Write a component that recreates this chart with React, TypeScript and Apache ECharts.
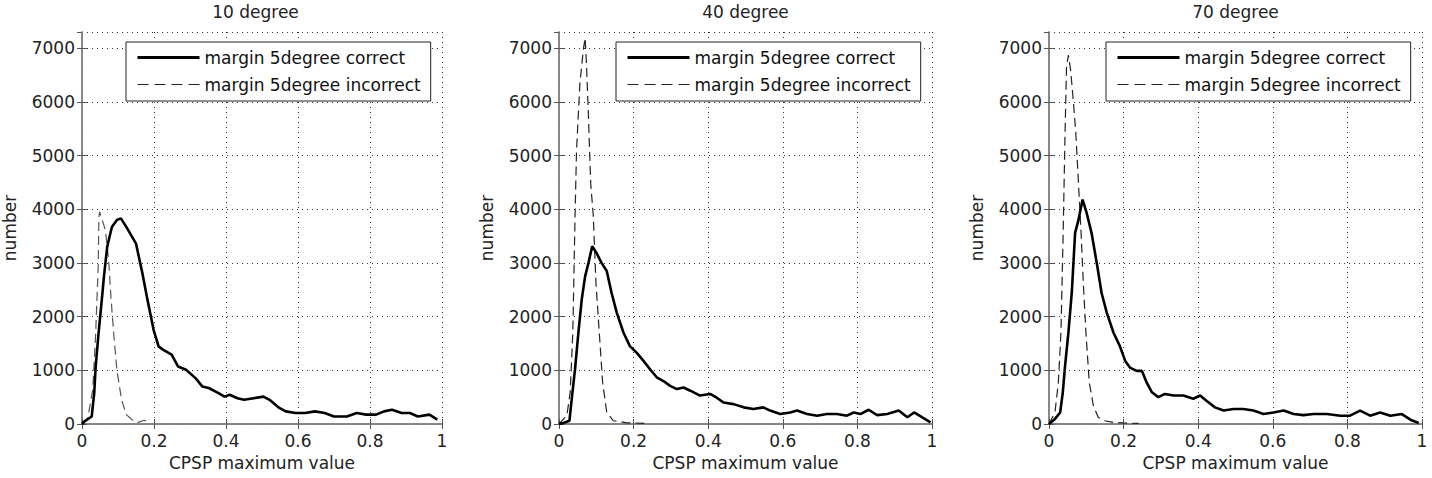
import { useEffect, useRef } from "react";
import * as echarts from "echarts";

const titles = ["10 degree", "40 degree", "70 degree"];
const seriesNames = ["margin 5degree correct", "margin 5degree incorrect"];
const xAxisName = "CPSP maximum value";
const yAxisName = "number";
const xMin = 0;
const xMax = 1;
const xStep = 0.2;
const yMin = 0;
const yMax = 7300;
const yStep = 1000;

const correct10: [number, number][] = [
  [0, 0], [0.007, 50], [0.027, 140], [0.034, 580], [0.038, 1070], [0.046, 1690],
  [0.055, 2310], [0.061, 2750], [0.07, 3300], [0.083, 3670], [0.097, 3800],
  [0.108, 3830], [0.123, 3670], [0.15, 3360], [0.168, 2800], [0.182, 2310],
  [0.199, 1750], [0.213, 1440], [0.226, 1380], [0.249, 1290], [0.267, 1070],
  [0.289, 1010], [0.316, 850], [0.334, 700], [0.352, 670], [0.378, 580],
  [0.396, 510], [0.41, 545], [0.432, 480], [0.45, 450], [0.477, 480],
  [0.504, 510], [0.521, 450], [0.548, 300], [0.566, 235], [0.593, 205],
  [0.62, 205], [0.647, 235], [0.674, 205], [0.7, 140], [0.736, 140],
  [0.763, 205], [0.79, 175], [0.817, 175], [0.839, 235], [0.861, 265],
  [0.888, 205], [0.911, 205], [0.933, 140], [0.965, 175], [0.987, 80],
];
const incorrect10: [number, number][] = [
  [0, 0], [0.016, 110], [0.03, 640], [0.038, 1690], [0.045, 2930], [0.047, 3860],
  [0.049, 3950], [0.056, 3800], [0.065, 3610], [0.074, 3050], [0.081, 2310],
  [0.088, 1690], [0.097, 1000], [0.11, 450], [0.123, 175], [0.141, 70],
  [0.155, 30], [0.173, 70], [0.19, 30],
];

const correct40: [number, number][] = [
  [0, 0], [0.012, 20], [0.028, 60], [0.034, 460], [0.043, 1020], [0.052, 1700],
  [0.061, 2320], [0.07, 2750], [0.079, 3000], [0.089, 3310], [0.101, 3180],
  [0.114, 3000], [0.128, 2850], [0.141, 2440], [0.155, 2070], [0.173, 1700],
  [0.19, 1450], [0.208, 1330], [0.226, 1180], [0.244, 1020], [0.262, 870],
  [0.28, 800], [0.298, 710], [0.316, 650], [0.334, 680], [0.352, 620],
  [0.378, 530], [0.405, 560], [0.423, 490], [0.441, 400], [0.468, 370],
  [0.495, 310], [0.521, 280], [0.548, 310], [0.566, 250], [0.593, 185],
  [0.62, 215], [0.638, 250], [0.665, 185], [0.692, 155], [0.718, 185],
  [0.745, 185], [0.772, 155], [0.79, 215], [0.808, 185], [0.83, 265],
  [0.853, 165], [0.88, 185], [0.911, 250], [0.934, 125], [0.952, 215],
  [0.974, 125], [0.996, 30],
];
const incorrect40: [number, number][] = [
  [0, 0], [0.021, 155], [0.03, 590], [0.037, 1700], [0.043, 3870], [0.047, 5100],
  [0.056, 6340], [0.065, 6960], [0.07, 7190], [0.074, 6650], [0.079, 5720],
  [0.085, 4480], [0.092, 3870], [0.099, 2630], [0.108, 1700], [0.117, 770],
  [0.128, 215], [0.146, 60], [0.164, 45], [0.182, 20], [0.2, 20], [0.235, 10],
];

const correct70: [number, number][] = [
  [0, 0], [0.016, 95], [0.03, 215], [0.037, 590], [0.043, 1080], [0.052, 1700],
  [0.061, 2440], [0.07, 3560], [0.079, 3800], [0.09, 4180], [0.101, 3930],
  [0.114, 3560], [0.128, 3000], [0.141, 2440], [0.155, 2070], [0.173, 1700],
  [0.19, 1450], [0.204, 1180], [0.217, 1050], [0.235, 990], [0.249, 990],
  [0.262, 770], [0.276, 590], [0.293, 500], [0.311, 560], [0.334, 530],
  [0.36, 530], [0.387, 470], [0.405, 530], [0.423, 430], [0.445, 310],
  [0.468, 250], [0.495, 280], [0.521, 280], [0.548, 250], [0.575, 185],
  [0.602, 215], [0.629, 250], [0.656, 185], [0.682, 165], [0.709, 185],
  [0.745, 185], [0.781, 155], [0.807, 155], [0.834, 250], [0.861, 155],
  [0.888, 215], [0.915, 155], [0.946, 185], [0.969, 80], [0.991, 20],
];
const incorrect70: [number, number][] = [
  [0, 0], [0.016, 215], [0.025, 770], [0.032, 1700], [0.038, 3560], [0.043, 5410],
  [0.047, 6650], [0.052, 6870], [0.058, 6590], [0.065, 6030], [0.072, 5410],
  [0.079, 4480], [0.086, 3560], [0.092, 2630], [0.099, 1700], [0.108, 770],
  [0.119, 340], [0.132, 125], [0.15, 60], [0.173, 30], [0.2, 20], [0.24, 10],
];

const panelCorrect = [correct10, correct40, correct70];
const panelIncorrect = [incorrect10, incorrect40, incorrect70];

const FONT = "DejaVu Sans";
const gridLefts = [69, 559, 1049];
const gridTop = 32;
const gridW = 373;
const gridH = 392;

export default function App() {
  const ref = useRef<HTMLDivElement>(null);
  useEffect(() => {
    if (!ref.current) return;
    const chart = echarts.init(ref.current, undefined, { renderer: "svg" });
    const axisLineStyle = { color: "#808080", width: 1.5 };
    const tickStyle = { color: "#555", width: 1 };
    const gridLine = { show: true, lineStyle: { color: "#333", width: 1, type: [1, 4] } };

    const grids: any[] = [];
    const xAxes: any[] = [];
    const yAxes: any[] = [];
    const series: any[] = [];
    const titleArr: any[] = [];
    const legends: any[] = [];

    titles.forEach((t, i) => {
      grids.push({ left: gridLefts[i], top: gridTop, width: gridW, height: gridH });
      xAxes.push({
        type: "value", gridIndex: i, min: xMin, max: xMax, interval: xStep,
        axisLine: { show: true, lineStyle: axisLineStyle },
        axisTick: { show: true, inside: true, length: 5, lineStyle: tickStyle },
        axisLabel: { fontSize: 17, fontFamily: FONT, color: "#222", margin: 8, formatter: (v: number) => String(v) },
        splitLine: gridLine,
        name: xAxisName, nameLocation: "middle", nameGap: 30,
        nameTextStyle: { fontSize: 17, fontFamily: FONT, color: "#222" },
      });
      xAxes.push({
        type: "value", gridIndex: i, position: "top", min: xMin, max: xMax, interval: xStep,
        axisLine: { show: true, lineStyle: axisLineStyle },
        axisTick: { show: true, inside: true, length: 5, lineStyle: tickStyle },
        axisLabel: { show: false }, splitLine: { show: false },
      });
      yAxes.push({
        type: "value", gridIndex: i, min: yMin, max: yMax, interval: yStep,
        axisLine: { show: true, lineStyle: axisLineStyle },
        axisTick: { show: true, inside: true, length: 5, lineStyle: tickStyle },
        axisLabel: {
          fontSize: 17, fontFamily: FONT, color: "#222", margin: 7, showMaxLabel: false,
          formatter: (v: number) => String(v),
        },
        splitLine: gridLine,
        name: yAxisName, nameLocation: "middle", nameGap: 64,
        nameTextStyle: { fontSize: 17, fontFamily: FONT, color: "#222" },
      });
      yAxes.push({
        type: "value", gridIndex: i, position: "right", min: yMin, max: yMax, interval: yStep,
        axisLine: { show: true, lineStyle: axisLineStyle },
        axisTick: { show: true, inside: true, length: 5, lineStyle: tickStyle },
        axisLabel: { show: false }, splitLine: { show: false },
      });
      series.push({
        name: seriesNames[0], type: "line", xAxisIndex: 2 * i, yAxisIndex: 2 * i,
        data: panelCorrect[i], symbol: "none", color: "#000",
        lineStyle: { color: "#000", width: 2.6 }, z: 3,
      });
      series.push({
        name: seriesNames[1], type: "line", xAxisIndex: 2 * i, yAxisIndex: 2 * i,
        data: panelIncorrect[i], symbol: "none", color: "#333",
        lineStyle: { color: i === 0 ? "#555" : "#222", width: 1.2, type: [9, 5] }, z: 2,
      });
      titleArr.push({
        text: t, left: gridLefts[i] + gridW / 2, top: 3, textAlign: "center", padding: 0,
        textStyle: { fontSize: 17, fontWeight: "normal", fontFamily: FONT, color: "#222" },
      });
      legends.push({
        left: gridLefts[i] + 57, top: 42, orient: "vertical", selectedMode: false,
        backgroundColor: "#fff", borderColor: "#222", borderWidth: 1,
        padding: [7, 10, 8, 10], itemGap: 10, itemWidth: 62, itemHeight: 14,
        textStyle: { fontSize: 17, fontFamily: FONT, color: "#111" },
        itemStyle: { opacity: 0 },
        data: [
          { name: seriesNames[0], itemStyle: { opacity: 0 }, lineStyle: { width: 3, color: "#000" } },
          { name: seriesNames[1], itemStyle: { opacity: 0 }, lineStyle: { width: 1.2, color: "#222", type: [11, 6] } },
        ],
        z: 10,
      });
    });

    chart.setOption({
      animation: false,
      backgroundColor: "#fff",
      title: titleArr,
      legend: legends,
      grid: grids,
      xAxis: xAxes,
      yAxis: yAxes,
      series,
    });
    return () => chart.dispose();
  }, []);
  return (
    <div
      ref={ref}
      style={{ position: "absolute", left: 0, top: 0, width: 1432, height: 478, background: "#fff" }}
    />
  );
}
